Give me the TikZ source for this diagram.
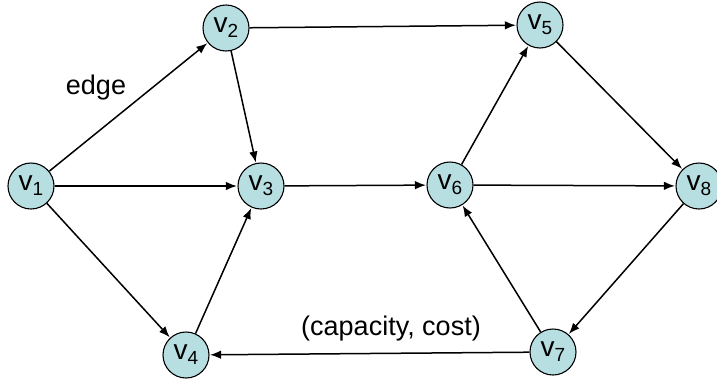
\documentclass[tikz,border=0pt]{standalone}
\usepackage{fontspec}
\setmainfont{Liberation Sans}
\usetikzlibrary{arrows.meta}
\definecolor{nodefill}{RGB}{183,222,225}
\newcommand{\vlab}[1]{{\fontsize{28}{28}\selectfont v\raisebox{-5pt}{\fontsize{19}{19}\selectfont #1}}}
\tikzset{
  vertex/.style={circle, draw, fill=nodefill, line width=1.1pt, minimum size=46pt, inner sep=0pt},
  edgearrow/.style={-{Latex[length=11pt,width=8.5pt]}, line width=1.5pt, shorten >=0.5pt},
  label text/.style={font=\fontsize{27}{27}\selectfont}
}
\begin{document}
\begin{tikzpicture}[x=1pt,y=-1pt]
  \useasboundingbox (0,0) rectangle (717,378);
  % vertices
  \node[vertex] (v1) at (31,186)  {\vlab{1}};
  \node[vertex] (v2) at (226,28)  {\vlab{2}};
  \node[vertex] (v3) at (261,186) {\vlab{3}};
  \node[vertex] (v4) at (186,355) {\vlab{4}};
  \node[vertex] (v5) at (540,25)  {\vlab{5}};
  \node[vertex] (v6) at (450,185) {\vlab{6}};
  \node[vertex] (v7) at (553,352) {\vlab{7}};
  \node[vertex] (v8) at (699,186) {\vlab{8}};
  % directed edges
  \draw[edgearrow] (v1) -- (v2);
  \draw[edgearrow] (v1) -- (v3);
  \draw[edgearrow] (v1) -- (v4);
  \draw[edgearrow] (v2) -- (v5);
  \draw[edgearrow] (v2) -- (v3);
  \draw[edgearrow] (v4) -- (v3);
  \draw[edgearrow] (v3) -- (v6);
  \draw[edgearrow] (v6) -- (v5);
  \draw[edgearrow] (v6) -- (v8);
  \draw[edgearrow] (v5) -- (v8);
  \draw[edgearrow] (v8) -- (v7);
  \draw[edgearrow] (v7) -- (v6);
  \draw[edgearrow] (v7) -- (v4);
  % labels
  \node[label text] (edgelbl) at (96,88) {edge};
  \node[label text] (caplbl) at (391,329) {(capacity, cost)};
\end{tikzpicture}
\end{document}
